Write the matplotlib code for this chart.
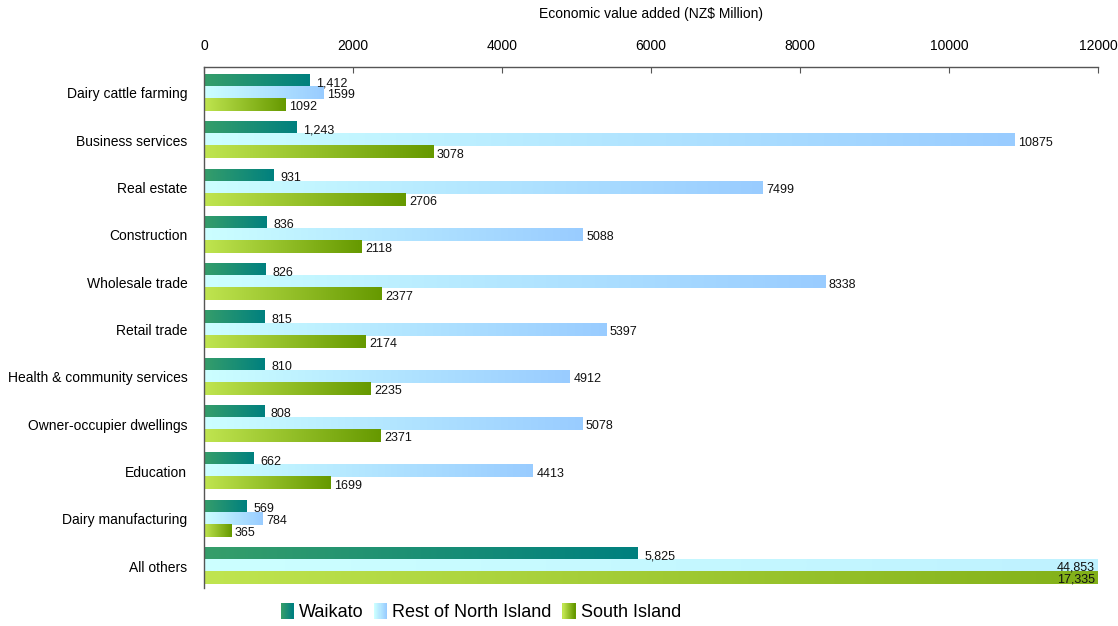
import numpy as np
import matplotlib.pyplot as plt
from matplotlib.colors import LinearSegmentedColormap
from matplotlib.patches import Rectangle
from matplotlib.legend_handler import HandlerBase

plt.rcParams['font.family'] = ['Liberation Sans', 'DejaVu Sans']

categories = ["Dairy cattle farming", "Business services", "Real estate", "Construction",
              "Wholesale trade", "Retail trade", "Health & community services",
              "Owner-occupier dwellings", "Education", "Dairy manufacturing", "All others"]
waikato = [1412, 1243, 931, 836, 826, 815, 810, 808, 662, 569, 5825]
rest_ni = [1599, 10875, 7499, 5088, 8338, 5397, 4912, 5078, 4413, 784, 44853]
south = [1092, 3078, 2706, 2118, 2377, 2174, 2235, 2371, 1699, 365, 17335]
series_names = ["Waikato", "Rest of North Island", "South Island"]
xticks = [0, 2000, 4000, 6000, 8000, 10000, 12000]
xmax = 12000

gradients = [("#369e6a", "#00807f"), ("#ccffff", "#99ccff"), ("#c0e550", "#669900")]
cmaps = [LinearSegmentedColormap.from_list("g%d" % i, g) for i, g in enumerate(gradients)]


class GradientHandler(HandlerBase):
    def __init__(self, cmap, **kw):
        super().__init__(**kw)
        self.cmap = cmap

    def create_artists(self, legend, orig_handle, xdescent, ydescent, width, height, fontsize, trans):
        n = 12
        arts = []
        for k in range(n):
            r = Rectangle((-xdescent + width * k / n, -ydescent), width / n + 0.3, height,
                          facecolor=self.cmap(k / (n - 1)), edgecolor='none', transform=trans)
            arts.append(r)
        return arts


fig = plt.figure(figsize=(11.18, 6.26), dpi=100)
ax = fig.add_axes([0.1825, 0.0607, 0.7995, 0.8323])

h = 0.254
offsets = [-h, 0, h]
grad = np.linspace(0, 1, 512).reshape(1, -1)
all_series = [waikato, rest_ni, south]

for s, (vals, cmap, off) in enumerate(zip(all_series, cmaps, offsets)):
    for i, v in enumerate(vals):
        y = i + off
        # gradient runs over the full value, the axes clip it at xmax
        ax.imshow(grad, cmap=cmap, extent=[0, v, y + h / 2, y - h / 2],
                  aspect='auto', interpolation='bilinear', zorder=2)
        if s == 0:
            txt = f"{v:,}"
        else:
            txt = f"{v:,}" if v > xmax else str(v)
        if v > xmax:
            ax.text(xmax - 40, y + 0.04, txt, ha='right', va='center', fontsize=9,
                    color='#111111', zorder=3)
        else:
            pad = 90 if s == 0 else 50
            ax.text(v + pad, y + 0.05, txt, ha='left', va='center', fontsize=9,
                    color='#111111', zorder=3)

ax.set_xlim(0, xmax)
ax.set_ylim(10.465, -0.55)
ax.set_yticks(range(len(categories)))
ax.set_yticklabels(categories, fontsize=10)
ax.tick_params(axis='y', length=0, pad=12)
ax.xaxis.tick_top()
ax.xaxis.set_label_position('top')
ax.set_xticks(xticks)
ax.set_xticklabels([str(t) for t in xticks], fontsize=10)
ax.tick_params(axis='x', direction='in', length=4, color='#555555', pad=10)
ax.set_xlabel("Economic value added (NZ$ Million)", fontsize=10, labelpad=15)

for side in ['right', 'bottom']:
    ax.spines[side].set_visible(False)
for side in ['top', 'left']:
    ax.spines[side].set_color('#555555')
    ax.spines[side].set_linewidth(1)

handles = [Rectangle((0, 0), 1, 1) for _ in series_names]
hmap = {hd: GradientHandler(cm) for hd, cm in zip(handles, cmaps)}
fig.legend(handles, series_names, handler_map=hmap, loc='center', bbox_to_anchor=(0.43, 0.022),
           ncol=3, frameon=False, fontsize=13, handlelength=0.7, handleheight=1.0,
           handletextpad=0.3, columnspacing=0.6)

fig.savefig("out.png", dpi=100)
